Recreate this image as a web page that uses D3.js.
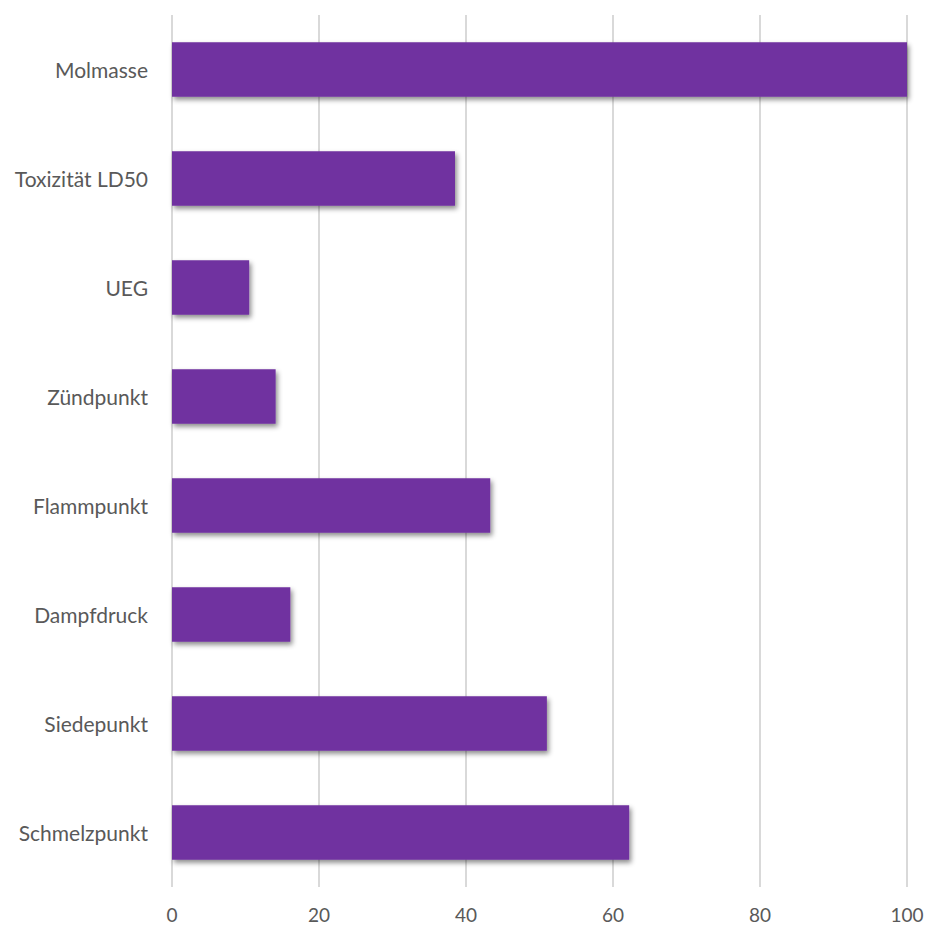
<!DOCTYPE html>
<html>
<head>
<meta charset="utf-8">
<script src="https://cdn.jsdelivr.net/npm/d3@7"></script>
<style>
  body { margin: 0; background: #fff; overflow: hidden; }
</style>
</head>
<body>
<div id="chart"></div>
<script>
const categories = ['Molmasse', 'Toxizität LD50', 'UEG', 'Zündpunkt', 'Flammpunkt', 'Dampfdruck', 'Siedepunkt', 'Schmelzpunkt'];
const values = [100, 38.5, 10.5, 14.1, 43.3, 16.1, 51.0, 62.2];
const xTicks = [0, 20, 40, 60, 80, 100];

const width = 927, height = 927;
const margin = {top: 15, right: 20, bottom: 40, left: 172};

const svg = d3.select('#chart')
    .append('svg')
    .attr('width', width)
    .attr('height', height)
    .style('display', 'block');

// drop shadow like the office chart
const defs = svg.append('defs');
const filter = defs.append('filter')
    .attr('id', 'shadow')
    .attr('x', '-5%').attr('y', '-20%')
    .attr('width', '115%').attr('height', '160%');
filter.append('feDropShadow')
    .attr('dx', 2).attr('dy', 3)
    .attr('stdDeviation', 2.5)
    .attr('flood-color', '#000')
    .attr('flood-opacity', 0.45);

const x = d3.scaleLinear()
    .domain([0, 100])
    .range([margin.left, 907]);

const y = d3.scaleBand()
    .domain(categories)
    .range([margin.top, 887])
    .paddingInner(0.5)
    .paddingOuter(0.25);

// gridlines
svg.append('g')
    .selectAll('line')
    .data(xTicks)
    .enter()
    .append('line')
    .attr('x1', d => x(d))
    .attr('x2', d => x(d))
    .attr('y1', margin.top)
    .attr('y2', 887)
    .attr('stroke', '#d9d9d9')
    .attr('stroke-width', 2);

// bars
svg.append('g')
    .selectAll('rect')
    .data(categories)
    .enter()
    .append('rect')
    .attr('x', x(0))
    .attr('y', d => y(d))
    .attr('width', (d, i) => x(values[i]) - x(0))
    .attr('height', y.bandwidth())
    .attr('fill', '#7030a0')
    .attr('filter', 'url(#shadow)');

// category labels
svg.append('g')
    .selectAll('text')
    .data(categories)
    .enter()
    .append('text')
    .attr('x', 148)
    .attr('y', d => y(d) + y.bandwidth() / 2)
    .attr('text-anchor', 'end')
    .attr('dominant-baseline', 'central')
    .attr('font-family', 'Lato, "Open Sans", sans-serif')
    .attr('font-size', 21)
    .attr('fill', '#595959')
    .text(d => d);

// x tick labels
svg.append('g')
    .selectAll('text')
    .data(xTicks)
    .enter()
    .append('text')
    .attr('x', d => x(d))
    .attr('y', 922)
    .attr('text-anchor', 'middle')
    .attr('font-family', 'Lato, "Open Sans", sans-serif')
    .attr('font-size', 19)
    .attr('fill', '#595959')
    .text(d => d);
</script>
</body>
</html>
